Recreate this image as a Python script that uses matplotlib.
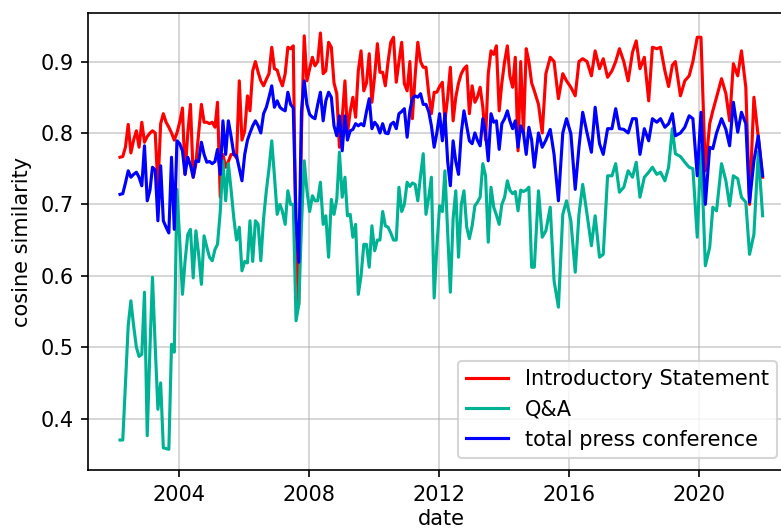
import matplotlib
matplotlib.use("Agg")
import matplotlib.pyplot as plt
import matplotlib.dates as mdates
import pandas as pd

# monthly meetings 2002-03 .. 2014-12, then six-weekly meetings 2015-2021
monthly = pd.date_range("2002-03-01", "2014-12-01", freq="MS") + pd.Timedelta(days=5)
six_weekly = [
    "2015-01-22", "2015-03-05", "2015-04-15", "2015-06-03", "2015-07-16", "2015-09-03", "2015-10-22", "2015-12-03",
    "2016-01-21", "2016-03-10", "2016-04-21", "2016-06-02", "2016-07-21", "2016-09-08", "2016-10-20", "2016-12-08",
    "2017-01-19", "2017-03-09", "2017-04-27", "2017-06-08", "2017-07-20", "2017-09-07", "2017-10-26", "2017-12-14",
    "2018-01-25", "2018-03-08", "2018-04-26", "2018-06-14", "2018-07-26", "2018-09-13", "2018-10-25", "2018-12-13",
    "2019-01-24", "2019-03-07", "2019-04-10", "2019-06-06", "2019-07-25", "2019-09-12", "2019-10-24", "2019-12-12",
    "2020-01-23", "2020-03-12", "2020-04-30", "2020-06-04", "2020-07-16", "2020-09-10", "2020-10-29", "2020-12-10",
    "2021-01-21", "2021-03-11", "2021-04-22", "2021-06-10", "2021-07-22", "2021-09-09", "2021-10-28", "2021-12-16",
]
dates = list(monthly) + list(pd.to_datetime(six_weekly))

intro = [
    0.766, 0.767, 0.78, 0.812, 0.772, 0.79, 0.803, 0.78, 0.815, 0.787,                # 2002
    0.795, 0.80, 0.803, 0.80, 0.724, 0.813, 0.827, 0.815, 0.808, 0.80, 0.79, 0.80,    # 2003
    0.815, 0.835, 0.742, 0.80, 0.84, 0.738, 0.757, 0.80, 0.84, 0.815, 0.815, 0.813,   # 2004
    0.815, 0.808, 0.843, 0.71, 0.77, 0.752, 0.76, 0.77, 0.77, 0.765, 0.873, 0.79,     # 2005
    0.803, 0.852, 0.831, 0.887, 0.90, 0.885, 0.873, 0.866, 0.875, 0.883, 0.92, 0.89,  # 2006
    0.888, 0.875, 0.866, 0.883, 0.92, 0.918, 0.922, 0.63, 0.56, 0.80, 0.936, 0.873,   # 2007
    0.89, 0.906, 0.894, 0.90, 0.94, 0.883, 0.887, 0.927, 0.92, 0.87, 0.855, 0.78,     # 2008
    0.82, 0.873, 0.80, 0.83, 0.85, 0.822, 0.887, 0.915, 0.859, 0.87, 0.911, 0.843,    # 2009
    0.88, 0.925, 0.885, 0.885, 0.866, 0.90, 0.927, 0.934, 0.871, 0.90, 0.927, 0.869,  # 2010
    0.859, 0.90, 0.82, 0.88, 0.927, 0.90, 0.892, 0.892, 0.855, 0.827, 0.857, 0.857,   # 2011
    0.865, 0.871, 0.817, 0.85, 0.892, 0.817, 0.85, 0.87, 0.883, 0.89, 0.894, 0.827,   # 2012
    0.866, 0.843, 0.85, 0.864, 0.836, 0.79, 0.883, 0.915, 0.91, 0.922, 0.831, 0.87,   # 2013
    0.90, 0.922, 0.88, 0.864, 0.906, 0.775, 0.90, 0.80, 0.918, 0.90, 0.87, 0.859,     # 2014
    0.84, 0.80, 0.883, 0.906, 0.90, 0.848, 0.883, 0.873,      # 2015
    0.864, 0.852, 0.90, 0.904, 0.90, 0.88, 0.915, 0.89,       # 2016
    0.904, 0.878, 0.887, 0.90, 0.918, 0.90, 0.873, 0.913,     # 2017
    0.929, 0.89, 0.906, 0.845, 0.92, 0.918, 0.92, 0.887,      # 2018
    0.865, 0.895, 0.90, 0.852, 0.873, 0.88, 0.90, 0.934,      # 2019
    0.934, 0.747, 0.813, 0.831, 0.85, 0.876, 0.855, 0.817,    # 2020
    0.897, 0.88, 0.915, 0.864, 0.70, 0.85, 0.794, 0.738,      # 2021
]

qa = [
    0.37, 0.37, 0.45, 0.53, 0.565, 0.53, 0.50, 0.487, 0.49, 0.577,                    # 2002
    0.376, 0.50, 0.598, 0.50, 0.413, 0.45, 0.359, 0.358, 0.357, 0.504, 0.493, 0.721,  # 2003
    0.65, 0.574, 0.62, 0.658, 0.665, 0.597, 0.663, 0.63, 0.588, 0.656, 0.64, 0.626,   # 2004
    0.621, 0.637, 0.644, 0.69, 0.761, 0.705, 0.757, 0.72, 0.68, 0.65, 0.668, 0.607,   # 2005
    0.62, 0.618, 0.677, 0.62, 0.677, 0.672, 0.621, 0.68, 0.719, 0.75, 0.789, 0.74,    # 2006
    0.686, 0.70, 0.69, 0.672, 0.719, 0.70, 0.70, 0.537, 0.56, 0.67, 0.761, 0.72,      # 2007
    0.69, 0.712, 0.705, 0.705, 0.731, 0.672, 0.684, 0.626, 0.707, 0.686, 0.707, 0.773,  # 2008
    0.71, 0.738, 0.684, 0.686, 0.654, 0.672, 0.574, 0.60, 0.644, 0.644, 0.612, 0.67,  # 2009
    0.635, 0.65, 0.65, 0.69, 0.67, 0.668, 0.66, 0.65, 0.65, 0.724, 0.69, 0.70,        # 2010
    0.731, 0.725, 0.73, 0.728, 0.705, 0.74, 0.771, 0.686, 0.71, 0.738, 0.569, 0.64,   # 2011
    0.698, 0.69, 0.747, 0.66, 0.577, 0.68, 0.719, 0.626, 0.70, 0.719, 0.668, 0.652,   # 2012
    0.67, 0.698, 0.703, 0.71, 0.757, 0.74, 0.647, 0.724, 0.696, 0.685, 0.672, 0.70,   # 2013
    0.71, 0.733, 0.72, 0.715, 0.718, 0.691, 0.72, 0.718, 0.72, 0.724, 0.612, 0.612,   # 2014
    0.719, 0.654, 0.663, 0.696, 0.593, 0.556, 0.686, 0.705,   # 2015
    0.677, 0.605, 0.686, 0.728, 0.686, 0.642, 0.684, 0.626,   # 2016
    0.63, 0.74, 0.74, 0.757, 0.717, 0.724, 0.747, 0.738,      # 2017
    0.759, 0.71, 0.738, 0.745, 0.752, 0.742, 0.745, 0.733,    # 2018
    0.752, 0.806, 0.771, 0.767, 0.759, 0.752, 0.75, 0.654,    # 2019
    0.78, 0.614, 0.64, 0.696, 0.691, 0.757, 0.733, 0.698,     # 2020
    0.74, 0.736, 0.71, 0.703, 0.63, 0.658, 0.773, 0.684,      # 2021
]

total = [
    0.714, 0.715, 0.73, 0.747, 0.738, 0.742, 0.745, 0.738, 0.726, 0.782,                # 2002
    0.705, 0.72, 0.752, 0.748, 0.677, 0.754, 0.677, 0.668, 0.66, 0.766, 0.665, 0.789,   # 2003
    0.785, 0.775, 0.742, 0.766, 0.755, 0.738, 0.761, 0.76, 0.787, 0.77, 0.759, 0.76,    # 2004
    0.757, 0.76, 0.777, 0.742, 0.817, 0.77, 0.817, 0.795, 0.77, 0.768, 0.75, 0.733,     # 2005
    0.77, 0.79, 0.80, 0.81, 0.817, 0.81, 0.80, 0.827, 0.836, 0.85, 0.866, 0.836,        # 2006
    0.845, 0.836, 0.833, 0.831, 0.857, 0.84, 0.835, 0.68, 0.619, 0.83, 0.873, 0.84,     # 2007
    0.826, 0.822, 0.82, 0.84, 0.857, 0.817, 0.845, 0.857, 0.85, 0.81, 0.796, 0.824,     # 2008
    0.775, 0.824, 0.79, 0.803, 0.805, 0.813, 0.81, 0.813, 0.81, 0.83, 0.848, 0.806,     # 2009
    0.815, 0.81, 0.80, 0.813, 0.80, 0.799, 0.812, 0.815, 0.806, 0.827, 0.83, 0.834,     # 2010
    0.794, 0.831, 0.848, 0.852, 0.85, 0.855, 0.84, 0.84, 0.83, 0.81, 0.78, 0.80,        # 2011
    0.827, 0.789, 0.827, 0.76, 0.726, 0.789, 0.76, 0.742, 0.80, 0.831, 0.81, 0.789,     # 2012
    0.785, 0.80, 0.79, 0.782, 0.82, 0.80, 0.761, 0.827, 0.815, 0.817, 0.777, 0.813,     # 2013
    0.82, 0.831, 0.817, 0.806, 0.817, 0.78, 0.81, 0.80, 0.77, 0.808, 0.79, 0.752,       # 2014
    0.80, 0.78, 0.79, 0.805, 0.77, 0.705, 0.80, 0.82,         # 2015
    0.799, 0.721, 0.78, 0.829, 0.80, 0.773, 0.836, 0.785,     # 2016
    0.77, 0.806, 0.806, 0.834, 0.806, 0.805, 0.80, 0.82,      # 2017
    0.82, 0.77, 0.806, 0.789, 0.82, 0.815, 0.82, 0.808,       # 2018
    0.813, 0.827, 0.796, 0.80, 0.808, 0.824, 0.82, 0.74,      # 2019
    0.829, 0.70, 0.78, 0.778, 0.80, 0.82, 0.805, 0.782,       # 2020
    0.843, 0.801, 0.829, 0.813, 0.703, 0.761, 0.796, 0.74,    # 2021
]

fig = plt.figure(figsize=(782 / 150, 530 / 150), dpi=150)
# axes run past the right edge of the picture, as in the cropped original
ax = fig.add_axes([88 / 782, 60 / 530, (795 - 88) / 782, 457 / 530])

ax.plot(dates, intro, color="red", lw=1.5, label="Introductory Statement")
ax.plot(dates, qa, color="#00b294", lw=1.5, label="Q&A")
ax.plot(dates, total, color="blue", lw=1.5, label="total press conference")

ax.set_xlim(pd.Timestamp("2001-03-11"), pd.Timestamp("2022-12-15"))
ax.set_ylim(0.328, 0.968)
ax.xaxis.set_major_locator(mdates.YearLocator(4))
ax.xaxis.set_major_formatter(mdates.DateFormatter("%Y"))
ax.grid(True, alpha=0.6)
ax.set_xlabel("date", labelpad=2)
ax.set_ylabel("cosine similarity")
ax.legend(loc="lower right", bbox_to_anchor=(777 / 782, 72 / 530),
          bbox_transform=fig.transFigure, borderaxespad=0)

fig.savefig("out.png", dpi=150)
